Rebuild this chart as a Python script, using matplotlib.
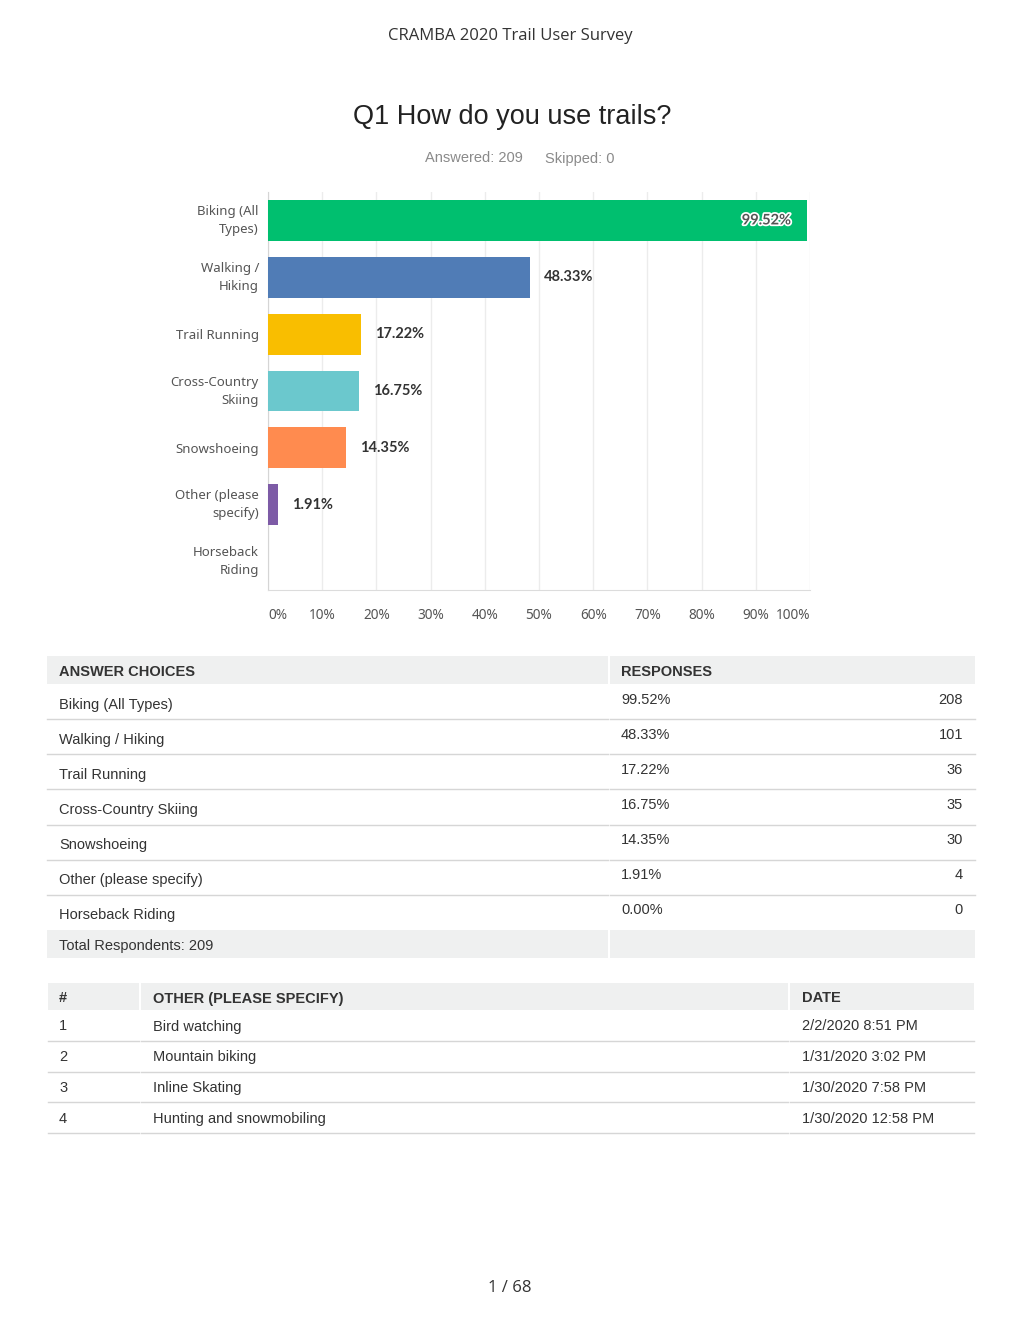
import numpy as np
import matplotlib.pyplot as plt
import matplotlib.patheffects as pe

# survey data
categories = ['Biking (All\nTypes)', 'Walking /\nHiking', 'Trail Running', 'Cross-Country\nSkiing',
              'Snowshoeing', 'Other (please\nspecify)', 'Horseback\nRiding']
choices = ['Biking (All Types)', 'Walking / Hiking', 'Trail Running', 'Cross-Country Skiing',
           'Snowshoeing', 'Other (please specify)', 'Horseback Riding']
percents = [99.52, 48.33, 17.22, 16.75, 14.35, 1.91, 0.00]
counts = [208, 101, 36, 35, 30, 4, 0]
bar_colors = ['#00bf6f', '#507cb6', '#f9be00', '#6bc8cd', '#ff8b4f', '#7d5ba6', '#c4a3d8']
answered = 209
skipped = 0
other_ids = [1, 2, 3, 4]
other_text = ['Bird watching', 'Mountain biking', 'Inline Skating', 'Hunting and snowmobiling']
other_dates = ['2/2/2020 8:51 PM', '1/31/2020 3:02 PM', '1/30/2020 7:58 PM', '1/30/2020 12:58 PM']

W, H = 1020, 1320
fig = plt.figure(figsize=(W / 100, H / 100), dpi=100)

# page overlay in pixel coords
pg = fig.add_axes([0, 0, 1, 1], zorder=0)
pg.set_xlim(0, W)
pg.set_ylim(H, 0)
pg.axis('off')

tfont = ['Liberation Sans', 'DejaVu Sans']
cfont = ['Noto Sans', 'DejaVu Sans']
bfont = ['Lato', 'DejaVu Sans']
dy = 1.5  # small text baseline nudge

pg.text(510, 35 + dy, 'CRAMBA 2020 Trail User Survey', ha='center', va='center',
        fontsize=12, color='#333333', family=['Open Sans', 'DejaVu Sans'])
pg.text(512, 114 + 2.5, 'Q1 How do you use trails?', ha='center', va='center',
        fontsize=19.5, color='#222222', family=tfont)
pg.text(474, 157 + dy, 'Answered: %d' % answered, ha='center', va='center',
        fontsize=10.5, color='#8a8a8a', family=tfont)
pg.text(580, 157 + dy, 'Skipped: %d' % skipped, ha='center', va='center',
        fontsize=10.5, color='#8a8a8a', family=tfont)
pg.text(510, 1287 + dy, '1 / 68', ha='center', va='center',
        fontsize=12, color='#333333', family=['Open Sans', 'DejaVu Sans'])

# bar chart
ax = fig.add_axes([268 / W, 1 - 590 / H, 542 / W, 398 / H], zorder=1)
y = np.arange(len(categories))
ax.barh(y, percents, height=0.72, color=bar_colors, zorder=3)
ax.set_xlim(0, 100)
ax.set_ylim(len(categories) - 0.5, -0.5)
ax.set_xticks(np.arange(0, 101, 10))
ax.set_xticklabels(['%d%%' % v for v in range(0, 101, 10)])
ax.set_yticks(y)
ax.set_yticklabels(categories, linespacing=1.5)
ax.tick_params(length=0, labelsize=9.5, labelcolor='#555555', pad=6.5)
ax.tick_params(axis='x', pad=13, labelsize=9.8)
for lab in ax.get_xticklabels() + ax.get_yticklabels():
    lab.set_family(cfont)
for lab in ax.get_yticklabels():
    if '\n' in lab.get_text():
        lab.set_va('center')
xl = ax.get_xticklabels()
xl[0].set_ha('left')
xl[-1].set_ha('right')
ax.grid(axis='x', color='#ececec', linewidth=1, zorder=0)
for s in ['top', 'right']:
    ax.spines[s].set_visible(False)
ax.spines['left'].set_color('#d5d5d5')
ax.spines['bottom'].set_color('#dcdcdc')

for i, p in enumerate(percents):
    if p <= 0:
        continue
    lbl = '%.2f%%' % p
    if p > 90:
        ax.text(p - 3, i, lbl, ha='right', va='center', fontsize=10.5, fontweight='bold',
                color='#555555', family=bfont, zorder=4,
                path_effects=[pe.withStroke(linewidth=2.5, foreground='white')])
    else:
        ax.text(p + 2.6, i, lbl, ha='left', va='center', fontsize=10.5, fontweight='bold',
                color='#333333', family=bfont, zorder=4)

# response table
hdr_bg = '#eff0f0'
line_c = '#d6d6d6'
x0, xs, x1 = 47, 609, 975
pg.add_patch(plt.Rectangle((x0, 656), xs - 1 - x0, 28, color=hdr_bg, lw=0))
pg.add_patch(plt.Rectangle((xs + 1, 656), x1 - xs - 1, 28, color=hdr_bg, lw=0))
pg.text(59, 670 + dy, 'ANSWER CHOICES', va='center', fontsize=10.5, fontweight='bold',
        color='#333333', family=tfont)
pg.text(621, 670 + dy, 'RESPONSES', va='center', fontsize=10.5, fontweight='bold',
        color='#333333', family=tfont)
rh = 35.15
for i, name in enumerate(choices):
    top = 684 + i * rh
    pg.text(59, top + 19 + dy, name, va='center', fontsize=10.5, color='#333333', family=tfont)
    pg.text(621, top + 14 + dy, '%.2f%%' % percents[i], va='center', fontsize=10.5,
            color='#333333', family=tfont)
    pg.text(963, top + 14 + dy, str(counts[i]), va='center', ha='right', fontsize=10.5,
            color='#333333', family=tfont)
    if i < len(choices) - 1:
        pg.plot([x0, xs - 1], [top + rh, top + rh], color=line_c, lw=1)
        pg.plot([xs + 1, x1], [top + rh, top + rh], color=line_c, lw=1)
tot_top = 684 + len(choices) * rh
pg.add_patch(plt.Rectangle((x0, tot_top), xs - 1 - x0, 28, color=hdr_bg, lw=0))
pg.add_patch(plt.Rectangle((xs + 1, tot_top), x1 - xs - 1, 28, color=hdr_bg, lw=0))
pg.text(59, tot_top + 14 + dy, 'Total Respondents: %d' % answered, va='center', fontsize=10.5,
        color='#333333', family=tfont)

# other (please specify) table
c0, c1, c2, c3 = 47, 140, 789, 975
for a, b in [(c0, c1), (c1, c2), (c2, c3)]:
    pg.add_patch(plt.Rectangle((a + 1, 983), b - a - 2, 27, color=hdr_bg, lw=0))
pg.text(59, 997 + dy, '#', va='center', fontsize=10.5, fontweight='bold', color='#333333', family=tfont)
pg.text(153, 997 + dy, 'OTHER (PLEASE SPECIFY)', va='center', fontsize=10.5, fontweight='bold',
        color='#333333', family=tfont)
pg.text(802, 997 + dy, 'DATE', va='center', fontsize=10.5, fontweight='bold',
        color='#333333', family=tfont)
rh2 = 30.75
for i in range(len(other_ids)):
    top = 1010 + i * rh2
    pg.text(59, top + 15 + dy, str(other_ids[i]), va='center', fontsize=10.5, color='#333333', family=tfont)
    pg.text(153, top + 15 + dy, other_text[i], va='center', fontsize=10.5, color='#333333', family=tfont)
    pg.text(802, top + 15 + dy, other_dates[i], va='center', fontsize=10.5, color='#333333', family=tfont)
    for a, b in [(c0, c1), (c1, c2), (c2, c3)]:
        pg.plot([a + 1, b - 1], [top + rh2, top + rh2], color=line_c, lw=1)

fig.savefig('out.png', dpi=100, facecolor='white')
